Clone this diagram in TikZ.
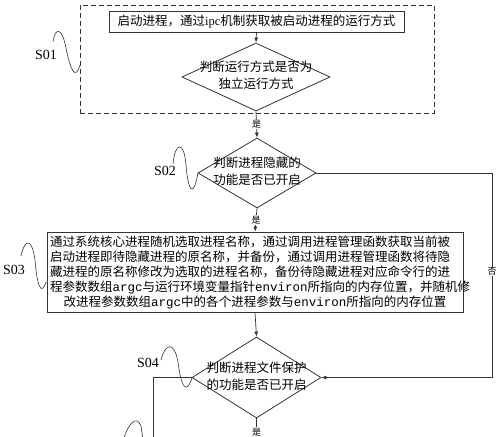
\documentclass[tikz,border=0pt]{standalone}
\usepackage{fontspec}
\setmainfont{Noto Sans CJK SC}
\newfontfamily\serifl{Liberation Serif}
\newfontfamily\monof{Liberation Mono}
\usetikzlibrary{shapes.geometric,arrows.meta}
\XeTeXlinebreaklocale "zh"
\XeTeXlinebreakskip=0pt plus 1fil
\newcommand\jline[1]{\hbox to 410pt{#1}}
\begin{document}
\begin{tikzpicture}[x=1pt,y=-1pt,
  line/.style={draw=black!80, line width=0.7pt},
  arr/.style={line, -{Latex[length=5pt,width=4pt]}},
  box/.style={draw=black!80, line width=0.8pt, rectangle, inner sep=0pt},
  dia/.style={draw=black!80, line width=0.8pt, diamond, inner sep=0pt},
  txt/.style={align=center, font=\fontsize{12.5}{17}\selectfont, inner sep=0pt},
  yesno/.style={font=\fontsize{9}{9}\selectfont, fill=white, inner sep=0.6pt},
  steplabel/.style={font=\serifl\fontsize{14}{14}\selectfont, inner sep=0pt},
  wave/.style={draw=black!80, line width=0.6pt}
]
\useasboundingbox (0,0) rectangle (500,436);
\fill[white] (0,0) rectangle (500,436);

% group S01
\node[box, dash pattern=on 5pt off 3pt, minimum width=354pt, minimum height=108pt] (grp) at (257,59) {};
\node[box, minimum width=295pt, minimum height=21pt, font=\fontsize{12.5}{12.5}\selectfont] (n1) at (256.5,21.5) {启动进程，通过{\serifl ipc}机制获取被启动进程的运行方式};
\node[dia, minimum width=148pt, minimum height=68pt] (d1) at (256,77) {};
\node[txt] (t1) at (256,75.5) {判断运行方式是否为\\独立运行方式};

% S02
\node[dia, minimum width=118pt, minimum height=70pt] (d2) at (257,173) {};
\node[txt] (t2) at (257,171.5) {判断进程隐藏的\\功能是否已开启};

% S03
\node[box, minimum width=416pt, minimum height=80pt] (b3) at (255,272) {};
\node[align=center, inner sep=0pt, font=\fontsize{12.5}{14.8}\selectfont] (t3) at (255,272.5) {%
\jline{通过系统核心进程随机选取进程名称，通过调用进程管理函数获取当前被}\\
\jline{启动进程即待隐藏进程的原名称，并备份，通过调用进程管理函数将待隐}\\
\jline{藏进程的原名称修改为选取的进程名称，备份待隐藏进程对应命令行的进}\\
\jline{程参数数组{\monof argc}与运行环境变量指针{\monof environ}所指向的内存位置，并随机修}\\
改进程参数数组{\monof argc}中的各个进程参数与{\monof environ}所指向的内存位置};

% S04
\node[dia, minimum width=129pt, minimum height=81pt] (d4) at (256.5,377.5) {};
\node[txt] (t4) at (256.5,376.5) {判断进程文件保护\\的功能是否已开启};

% coordinates
\coordinate (c1) at (492,173);
\coordinate (c2) at (492,377.5);
\coordinate (c3) at (153,377.5);
\coordinate (c4) at (153,440);
\coordinate (c5) at (256.5,440);

% connectors
\draw[arr] (n1.south) -- (d1.north);
\draw[arr] (d1.south) -- node[yesno]{是} (d2.north);
\draw[arr] (d2.south) -- node[yesno]{是} (b3.north);
\draw[arr] (b3.south) -- (d4.north);
\draw[arr] (d2.east) -- (c1) -- node[yesno, pos=0.48]{否} (c2) -- (d4.east);
\draw[line] (d4.west) -- (c3) -- (c4);
\draw[line] (d4.south) -- (c5);
\node[yesno] (y4) at (256.5,432) {是};

% step labels
\node[steplabel] (s1) at (46,55) {S01};
\node[steplabel] (s2) at (165,171) {S02};
\node[steplabel] (s3) at (14,270) {S03};
\node[steplabel] (s4) at (148,363) {S04};

% waves
\draw[wave] (53,42) .. controls (55,27) and (62,27) .. (66,48) .. controls (70,68) and (75,82) .. (80,65);
\draw[wave] (173,164) .. controls (175,142) and (184,140) .. (186,165) .. controls (188,190) and (193,200) .. (198,173);
\draw[wave] (21,256) .. controls (25,238) and (32,238) .. (35,260) .. controls (37,285) and (41,297) .. (46,282);
\draw[wave] (161,360) .. controls (165,344) and (174,340) .. (178,362) .. controls (181,386) and (186,396) .. (192,378);
\draw[wave] (124,438) .. controls (128,425) and (136,414) .. (141,426) -- (143,440);
\end{tikzpicture}
\end{document}
